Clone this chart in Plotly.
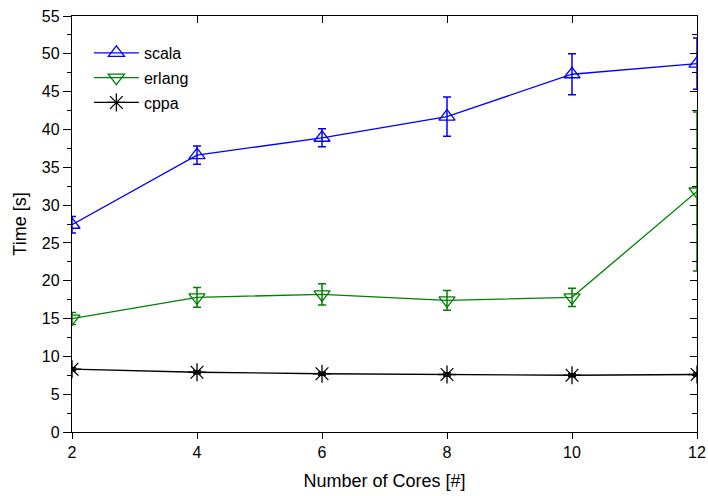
import plotly.graph_objects as go

cores = [2, 4, 6, 8, 10, 12]

scala = [27.4, 36.6, 38.9, 41.7, 47.3, 48.7]
scala_err = [1.1, 1.2, 1.2, 2.6, 2.7, 3.4]

erlang = [15.0, 17.8, 18.2, 17.4, 17.8, 31.8]
erlang_err = [0.8, 1.3, 1.4, 1.3, 1.2, 10.5]

cppa = [8.3, 7.9, 7.7, 7.6, 7.5, 7.6]
cppa_err = [0.2, 0.2, 0.2, 0.2, 0.2, 0.2]

x_ticks = [2, 4, 6, 8, 10, 12]
y_ticks = [0, 5, 10, 15, 20, 25, 30, 35, 40, 45, 50, 55]

FONT = "Liberation Sans, Arial, sans-serif"

fig = go.Figure()

series = [
    ("scala", scala, scala_err, "#0000FF", "triangle-up-open", 14),
    ("erlang", erlang, erlang_err, "#008000", "triangle-down-open", 14),
    ("cppa", cppa, cppa_err, "#000000", "asterisk-open", 15),
]
for name, vals, err, col, sym, sz in series:
    fig.add_trace(go.Scatter(
        x=cores, y=vals, name=name, mode="lines+markers", legendgroup=name,
        line=dict(color=col, width=1.3),
        marker=dict(symbol=sym, size=sz, color=col, line=dict(color=col, width=1.3)),
        error_y=dict(type="data", array=err, visible=True, color=col, thickness=1.5, width=4),
    ))

# invisible trace to bring up mirror axes (top / right)
fig.add_trace(go.Scatter(x=[cores[0], cores[-1]], y=[y_ticks[0], y_ticks[-1]],
                         xaxis="x2", yaxis="y2", mode="markers",
                         marker=dict(opacity=0), showlegend=False, hoverinfo="skip"))

axis_common = dict(showline=True, linecolor="black", linewidth=1.3, showgrid=False,
                   zeroline=False, tickcolor="black", tickwidth=1.3, automargin=False,
                   tickfont=dict(family=FONT, size=16, color="black"))

fig.update_layout(
    width=708, height=496,
    margin=dict(l=72, r=11, t=16, b=64),
    paper_bgcolor="white", plot_bgcolor="white",
    font=dict(family=FONT, size=17, color="black"),
    showlegend=True,
    legend=dict(x=0.027, y=0.952, xanchor="left", yanchor="top",
                bgcolor="rgba(0,0,0,0)", font=dict(family=FONT, size=16), tracegroupgap=1,
                itemwidth=45),
    xaxis=dict(range=[2, 12], tickvals=x_ticks, ticks="outside", ticklen=6,
               title=dict(text="Number of Cores [#]", standoff=14,
                          font=dict(family=FONT, size=18, color="black")),
               **axis_common),
    yaxis=dict(range=[0, 55], tickvals=y_ticks, ticks="outside", ticklen=8,
               minor=dict(dtick=2.5, ticks="outside", ticklen=4, tickcolor="black", tickwidth=1.3),
               title=dict(text="Time [s]", standoff=10,
                          font=dict(family=FONT, size=18, color="black")),
               **axis_common),
    xaxis2=dict(range=[2, 12], tickvals=x_ticks, ticks="inside", ticklen=7,
                overlaying="x", side="top", showticklabels=False, **axis_common),
    yaxis2=dict(range=[0, 55], tickvals=y_ticks, ticks="inside", ticklen=7,
                minor=dict(dtick=2.5, ticks="inside", ticklen=5, tickcolor="black", tickwidth=1.3),
                overlaying="y", side="right", showticklabels=False, **axis_common),
)

fig.write_html("out.html")
